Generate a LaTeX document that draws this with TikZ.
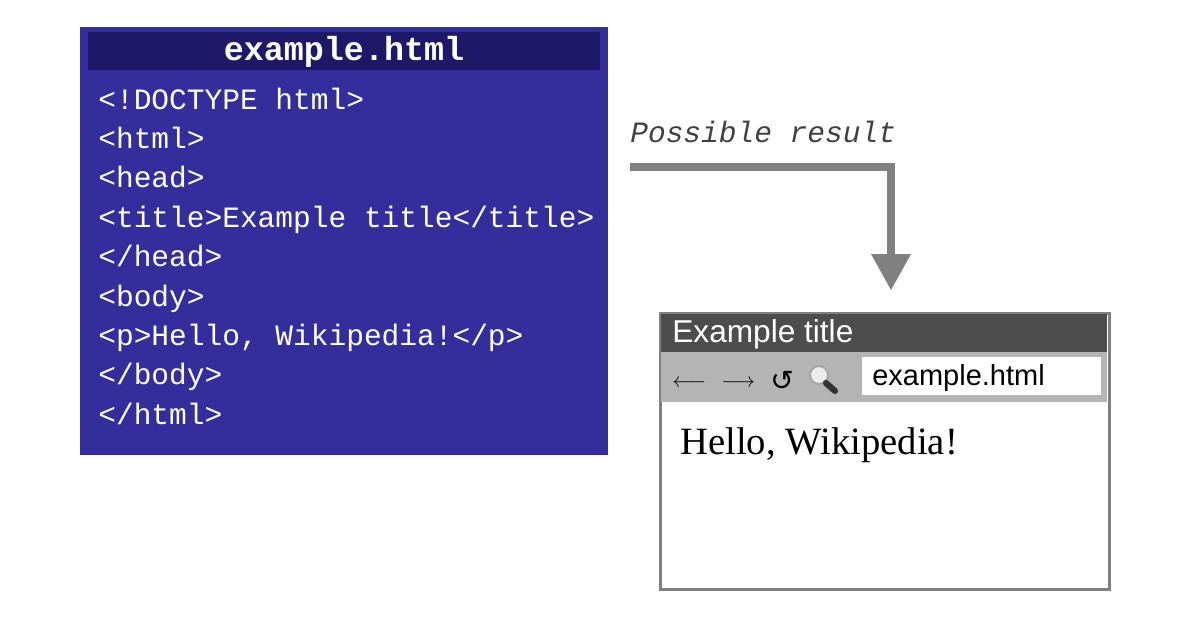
\documentclass[tikz,border=0pt]{standalone}
\usepackage{fontspec}
\setmainfont{Liberation Serif}
\setsansfont{Liberation Sans}
\setmonofont{Liberation Mono}
\newfontfamily\symfont{DejaVu Sans}
\definecolor{codeBlue}{HTML}{332E9B}
\definecolor{codeBar}{HTML}{1F1868}
\definecolor{arrowGray}{HTML}{808080}
\definecolor{barDark}{HTML}{4D4D4D}
\definecolor{barLight}{HTML}{B4B4B4}
\tikzset{
  codeline/.style={anchor=base west, text=white, inner sep=0pt, font=\ttfamily\fontsize{16.8}{18}\selectfont},
}
\begin{document}
\begin{tikzpicture}[x=0.02cm, y=-0.02cm]
\useasboundingbox (0,0) rectangle (1200,630);
%%%%%%%%%%%%%%%%%%%%%%%%%%%%%%% source file
\node[rectangle, draw=none, fill=codeBlue, minimum width=528*0.02cm, minimum height=428*0.02cm, anchor=north west](srcBox) at (80,27){};
\node[rectangle, draw=none, fill=codeBar, minimum width=512*0.02cm, minimum height=38*0.02cm](srcBar) at (344,51){};
\node[anchor=base, text=white, inner sep=0pt, font=\ttfamily\bfseries\fontsize{19}{20}\selectfont](srcTitle) at (344,60){example.html};
\foreach \txt [count=\i from 0] in {<!DOCTYPE html>, <html>, <head>, <title>Example title</title>, </head>, <body>, <p>Hello{,} Wikipedia!</p>, </body>, </html>}
  \node[codeline](line\i) at (98,109+39.4*\i){\txt};

%%%%%%%%%%%%%%%%%%%%%%%%%%%%%%% result arrow
\node[anchor=base west, inner sep=0pt, text=black!75, font=\ttfamily\itshape\fontsize{16.8}{18}\selectfont](resLabel) at (630,142){Possible result};
\coordinate (arrStart) at (630,167);
\coordinate (arrBend) at (891,167);
\coordinate (arrEnd) at (891,290);
\draw[arrowGray, line width=8*0.02cm] (arrStart) -- (arrBend) -- ++(0,88);
\fill[arrowGray] (871,254) -- (911,254) -- (arrEnd) -- cycle;

%%%%%%%%%%%%%%%%%%%%%%%%%%%%%%% browser window
\node[rectangle, draw=arrowGray, line width=3*0.02cm, fill=white, minimum width=449*0.02cm, minimum height=276*0.02cm, anchor=north west](browser) at (659,312){};
\node[rectangle, draw=none, fill=barDark, minimum width=446*0.02cm, minimum height=38*0.02cm, anchor=north west](titleBar) at (660.5,313.5){};
\node[anchor=base west, text=white, inner sep=0pt, font=\sffamily\fontsize{18}{19}\selectfont](winTitle) at (672,342){Example title};
\node[rectangle, draw=none, fill=barLight, minimum width=446*0.02cm, minimum height=50*0.02cm, anchor=north west](toolBar) at (660.5,351.5){};
\node[anchor=base west, inner sep=0pt, font=\fontsize{13}{14}\selectfont](navBack) at (672,387){$\longleftarrow$};
\node[anchor=base west, inner sep=0pt, font=\fontsize{13}{14}\selectfont](navFwd) at (721,387){$\longrightarrow$};
\node[anchor=base west, inner sep=0pt, font=\symfont\fontsize{16}{18}\selectfont](navReload) at (770,390){↺};
\draw[gray!70, fill=gray!15, line width=1.2] (819,375) circle (9);
\draw[black!80, line width=3.5, line cap=round] (826,383) -- (835,391);
\node[rectangle, draw=none, fill=white, minimum width=239*0.02cm, minimum height=38*0.02cm, anchor=north west](address) at (862,357){};
\node[anchor=base west, inner sep=0pt, font=\sffamily\fontsize{16.5}{18}\selectfont](url) at (872,385){example.html};
\node[anchor=base west, inner sep=0pt, font=\fontsize{22}{24}\selectfont](pageText) at (680,454){Hello, Wikipedia!};
\end{tikzpicture}
\end{document}
